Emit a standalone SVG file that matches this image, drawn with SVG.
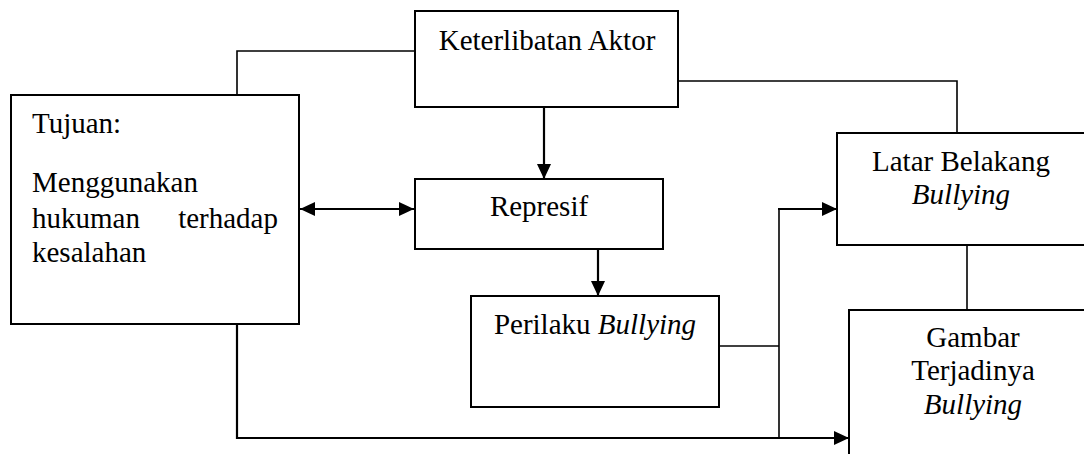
<svg xmlns="http://www.w3.org/2000/svg" width="1084" height="454" viewBox="0 0 1084 454">
<style>
.box{fill:#fff;stroke:#000;stroke-width:2}
.ln{fill:none;stroke:#000;stroke-width:1.6}
.ar{fill:none;stroke:#000;stroke-width:2.2}
text{font-family:"Liberation Serif","Times New Roman",serif;font-size:29px;fill:#000}
.c{text-anchor:middle}
.i{font-style:italic}
</style>
<defs>
<marker id="ah" markerUnits="userSpaceOnUse" viewBox="0 0 15 14" markerWidth="15" markerHeight="14" refX="15" refY="7" orient="auto-start-reverse">
<path d="M0,0 L15,7 L0,14 z" fill="#000"/>
</marker>
</defs>
<g id="connectors">
<polyline class="ln" points="237,95 237,51 415,51"/>
<polyline class="ln" points="678,81 957,81 957,133"/>
<line class="ar" x1="544" y1="107" x2="544" y2="179" marker-end="url(#ah)"/>
<line class="ar" x1="598" y1="249" x2="598" y2="296" marker-end="url(#ah)"/>
<line class="ar" x1="300" y1="209" x2="414" y2="209" marker-start="url(#ah)" marker-end="url(#ah)"/>
<line class="ln" x1="719" y1="346" x2="779" y2="346"/>
<line class="ln" x1="779" y1="209" x2="779" y2="438"/>
<line class="ar" x1="778" y1="209" x2="837" y2="209" marker-end="url(#ah)"/>
<polyline class="ar" points="237,324 237,438 849,438" marker-end="url(#ah)"/>
<line class="ln" x1="967" y1="245" x2="967" y2="310"/>
</g>
<g id="tujuan">
<rect class="box" x="11" y="95" width="288" height="229"/>
<text x="32" y="133">Tujuan:</text>
<text x="32" y="192">Menggunakan</text>
<text x="32" y="228">hukuman</text>
<text x="278" y="228" text-anchor="end">terhadap</text>
<text x="32" y="262">kesalahan</text>
</g>
<g id="keterlibatan">
<rect class="box" x="415" y="11" width="263" height="96"/>
<text class="c" x="547" y="50">Keterlibatan Aktor</text>
</g>
<g id="represif">
<rect class="box" x="415" y="179" width="248" height="70"/>
<text class="c" x="539" y="216">Represif</text>
</g>
<g id="perilaku">
<rect class="box" x="471" y="296" width="248" height="111"/>
<text class="c" x="595" y="334">Perilaku <tspan class="i">Bullying</tspan></text>
</g>
<g id="latar">
<rect class="box" x="837" y="133" width="260" height="112"/>
<text class="c" x="961" y="171">Latar Belakang</text>
<text class="c i" x="961" y="204">Bullying</text>
</g>
<g id="gambar">
<rect class="box" x="849" y="310" width="260" height="160"/>
<text class="c" x="973" y="347">Gambar</text>
<text class="c" x="973" y="380">Terjadinya</text>
<text class="c i" x="973" y="414">Bullying</text>
</g>
</svg>
